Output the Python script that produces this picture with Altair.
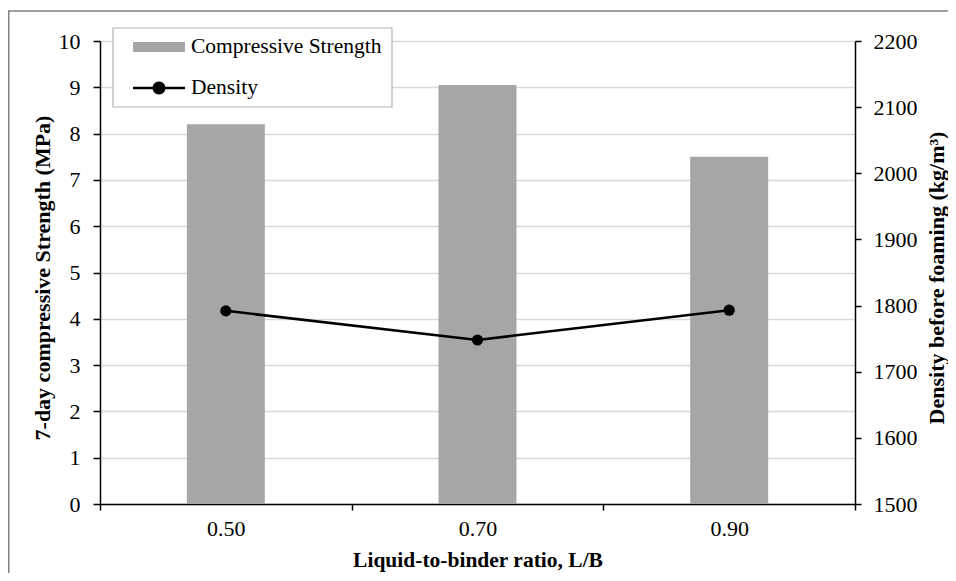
import altair as alt
import pandas as pd

# ---- data ----
ratios = [0.50, 0.70, 0.90]
strength = [8.2, 9.05, 7.5]          # 7-day compressive strength (MPa)
density = [1792, 1748, 1793]         # density before foaming (kg/m3)
bar_series = "Compressive Strength"
line_series = "Density"
x_ticks = [0.4, 0.5, 0.6, 0.7, 0.8, 0.9, 1.0]
y_left_ticks = list(range(0, 11))
y_right_ticks = list(range(1500, 2201, 100))

df = pd.DataFrame({
    "ratio": ratios,
    "strength": strength,
    "density": density,
    "s_bar": [bar_series] * len(ratios),
    "s_line": [line_series] * len(ratios),
})

W, H = 755, 463
FONT = "Liberation Serif"
LBL = 22
TTL = 21.5
TTL_Y = 22

common_axis = dict(
    labelFont=FONT, labelFontSize=LBL, labelColor="black",
    titleFont=FONT, titleFontWeight="bold", titleColor="black",
    domainColor="black", tickColor="black", domainWidth=1.5, tickWidth=1.5,
)

x_enc = alt.X(
    "ratio:Q",
    scale=alt.Scale(domain=[0.4, 1.0], nice=False, zero=False, padding=0),
    axis=alt.Axis(
        values=x_ticks,
        labelExpr="round(datum.value*10)%2==1 ? format(datum.value,'.2f') : ''",
        tickOpacity={"condition": {"test": "round(datum.value*10)%2==1", "value": 0}, "value": 1},
        labelOverlap=False,
        labelFlush=False,
        grid=False,
        title="Liquid-to-binder ratio, L/B",
        titleFontSize=TTL,
        titleX=W / 2,
        titleY=56,
        titleBaseline="middle",
        tickSize=6,
        labelPadding=8,
        **common_axis,
    ),
)

bar_path = "M-1,-0.19H1V0.19H-1Z"
dens_path = ("M-1,-0.045H1V0.045H-1Z "
             "M-0.25,0A0.25,0.25,0,1,1,0.25,0A0.25,0.25,0,1,1,-0.25,0Z")

bars = alt.Chart(df).mark_bar(size=78).encode(
    x=x_enc,
    y=alt.Y(
        "strength:Q",
        scale=alt.Scale(domain=[0, 10], nice=False, padding=0),
        axis=alt.Axis(
            values=y_left_ticks,
            format="d",
            grid=True,
            gridColor="#d9d9d9",
            gridWidth=1.5,
            title="7-day compressive Strength (MPa)",
            titleFontSize=TTL_Y,
            titleX=-58,
            titleY=H / 2 + 5,
            titleBaseline="middle",
            tickSize=7,
            labelPadding=13,
            **common_axis,
        ),
    ),
    color=alt.Color(
        "s_bar:N",
        scale=alt.Scale(domain=[bar_series], range=["#a6a6a6"]),
        legend=alt.Legend(
            orient="none", legendX=33, legendY=-20, title=None,
            symbolType=bar_path, symbolSize=2704, symbolStrokeWidth=0,
            labelFont=FONT, labelFontSize=21.5, labelColor="black", labelLimit=400,
            labelOffset=6, padding=0,
        ),
    ),
)

line = alt.Chart(df).mark_line(strokeWidth=2.5).encode(
    x=x_enc,
    y=alt.Y(
        "density:Q",
        scale=alt.Scale(domain=[1500, 2200], nice=False, zero=False, padding=0),
        axis=alt.Axis(
            orient="right",
            values=y_right_ticks,
            format="d",
            grid=False,
            title="Density before foaming (kg/m³)",
            titleFontSize=TTL_Y,
            titleAngle=270,
            titleX=81,
            titleY=H / 2 + 5,
            titleBaseline="middle",
            tickSize=6,
            labelPadding=12,
            **common_axis,
        ),
    ),
    stroke=alt.Stroke(
        "s_line:N",
        scale=alt.Scale(domain=[line_series], range=["black"]),
        legend=alt.Legend(
            orient="none", legendX=33, legendY=21, title=None,
            symbolType=dens_path, symbolSize=2704, symbolStrokeWidth=0,
            symbolFillColor="black",
            labelFont=FONT, labelFontSize=21.5, labelColor="black", labelLimit=400,
            labelOffset=6, padding=0,
        ),
    ),
)

points = alt.Chart(df).mark_circle(size=125, color="black", opacity=1).encode(
    x=x_enc,
    y=alt.Y("density:Q", scale=alt.Scale(domain=[1500, 2200], nice=False, zero=False, padding=0), axis=None),
)

one = alt.Data(values=[{}])
frame = alt.Chart(one).mark_rect(filled=False, stroke="#808080", strokeWidth=1.5).encode(
    x=alt.value(-91.25), x2=alt.value(W + 200), y=alt.value(-30), y2=alt.value(H + 200)
)
legend_box = alt.Chart(one).mark_rect(fill="white", stroke="#b3b3b3", strokeWidth=1.2).encode(
    x=alt.value(13), x2=alt.value(292), y=alt.value(-13), y2=alt.value(66)
)

chart = alt.layer(frame, bars, legend_box, line, points).resolve_scale(
    y="independent"
).properties(
    width=W,
    height=H,
    padding={"left": 92, "top": 33, "right": 93, "bottom": 69},
    autosize=alt.AutoSizeParams(type="none"),
).configure_view(
    stroke=None
)

chart.save("out.html", embed_options={"renderer": "svg", "actions": False})
